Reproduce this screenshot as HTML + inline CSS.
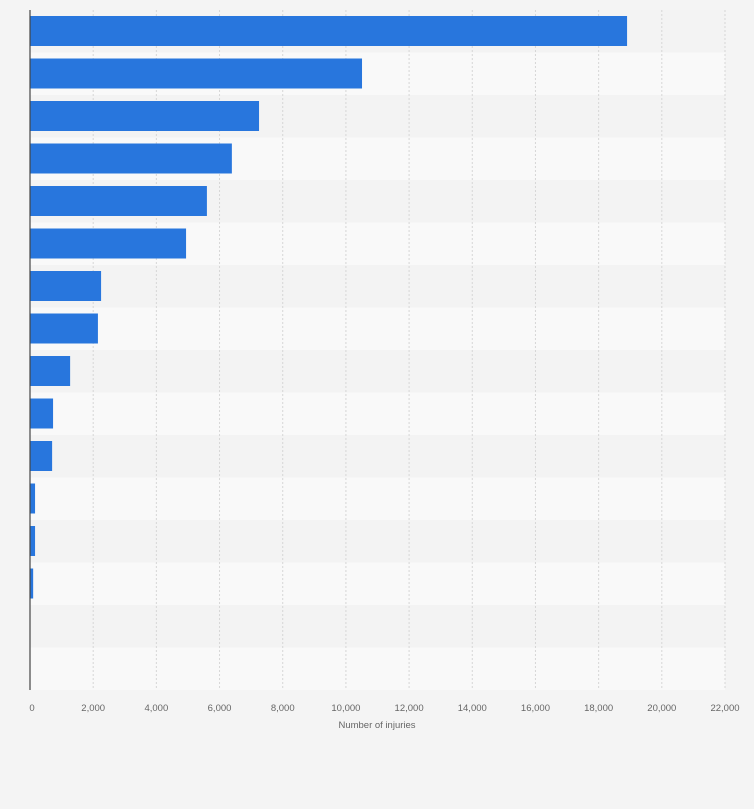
<!DOCTYPE html>
<html><head><meta charset="utf-8"><style>
body{margin:0;background:#f4f4f4;font-family:"Liberation Sans",sans-serif;}
svg{display:block}
</style></head><body>
<svg id="c" width="754" height="809"></svg>
<script>
const values=[18900,10510,7250,6390,5600,4940,2250,2150,1270,730,700,160,160,100,0,0];
const ticks=[0,2000,4000,6000,8000,10000,12000,14000,16000,18000,20000,22000];
const tickLabels=["0","2,000","4,000","6,000","8,000","10,000","12,000","14,000","16,000","18,000","20,000","22,000"];
const svg=document.getElementById('c');const NS='http://www.w3.org/2000/svg';
const x0=30,x1=725,xmax=22000,plotTop=10,pitch=42.5;
const xs=v=>x0+(x1-x0)*v/xmax;
function mk(t,a,p){const e=document.createElementNS(NS,t);for(const k in a)e.setAttribute(k,a[k]);(p||svg).appendChild(e);return e;}
values.forEach((v,i)=>{const r=mk('rect',{x:x0,y:plotTop+i*pitch,width:x1-x0,height:pitch,fill:i%2?'#f9f9f9':'#f3f3f3'});

});
ticks.forEach((t,i)=>{if(i>0){const l=mk('line',{x1:xs(t),x2:xs(t),y1:plotTop,y2:plotTop+values.length*pitch,stroke:'#d6d6d6','stroke-dasharray':'2,2'});

}
const tx=mk('text',{x:xs(t)+(i==0?2:0),y:711,'font-size':'9.5',fill:'#666','text-anchor':'middle'});tx.textContent=tickLabels[i];

});
values.forEach((v,i)=>{const b=mk('rect',{x:x0,y:plotTop+i*pitch+6,width:xs(v)-x0,height:30,fill:'#2876dd'});

});
const ax=mk('line',{x1:x0,x2:x0,y1:plotTop,y2:plotTop+values.length*pitch,stroke:'#444','stroke-width':1.2});


const tt=mk('text',{x:377,y:728,'font-size':'9.5',fill:'#666','text-anchor':'middle'});tt.textContent='Number of injuries';


</script></body></html>
